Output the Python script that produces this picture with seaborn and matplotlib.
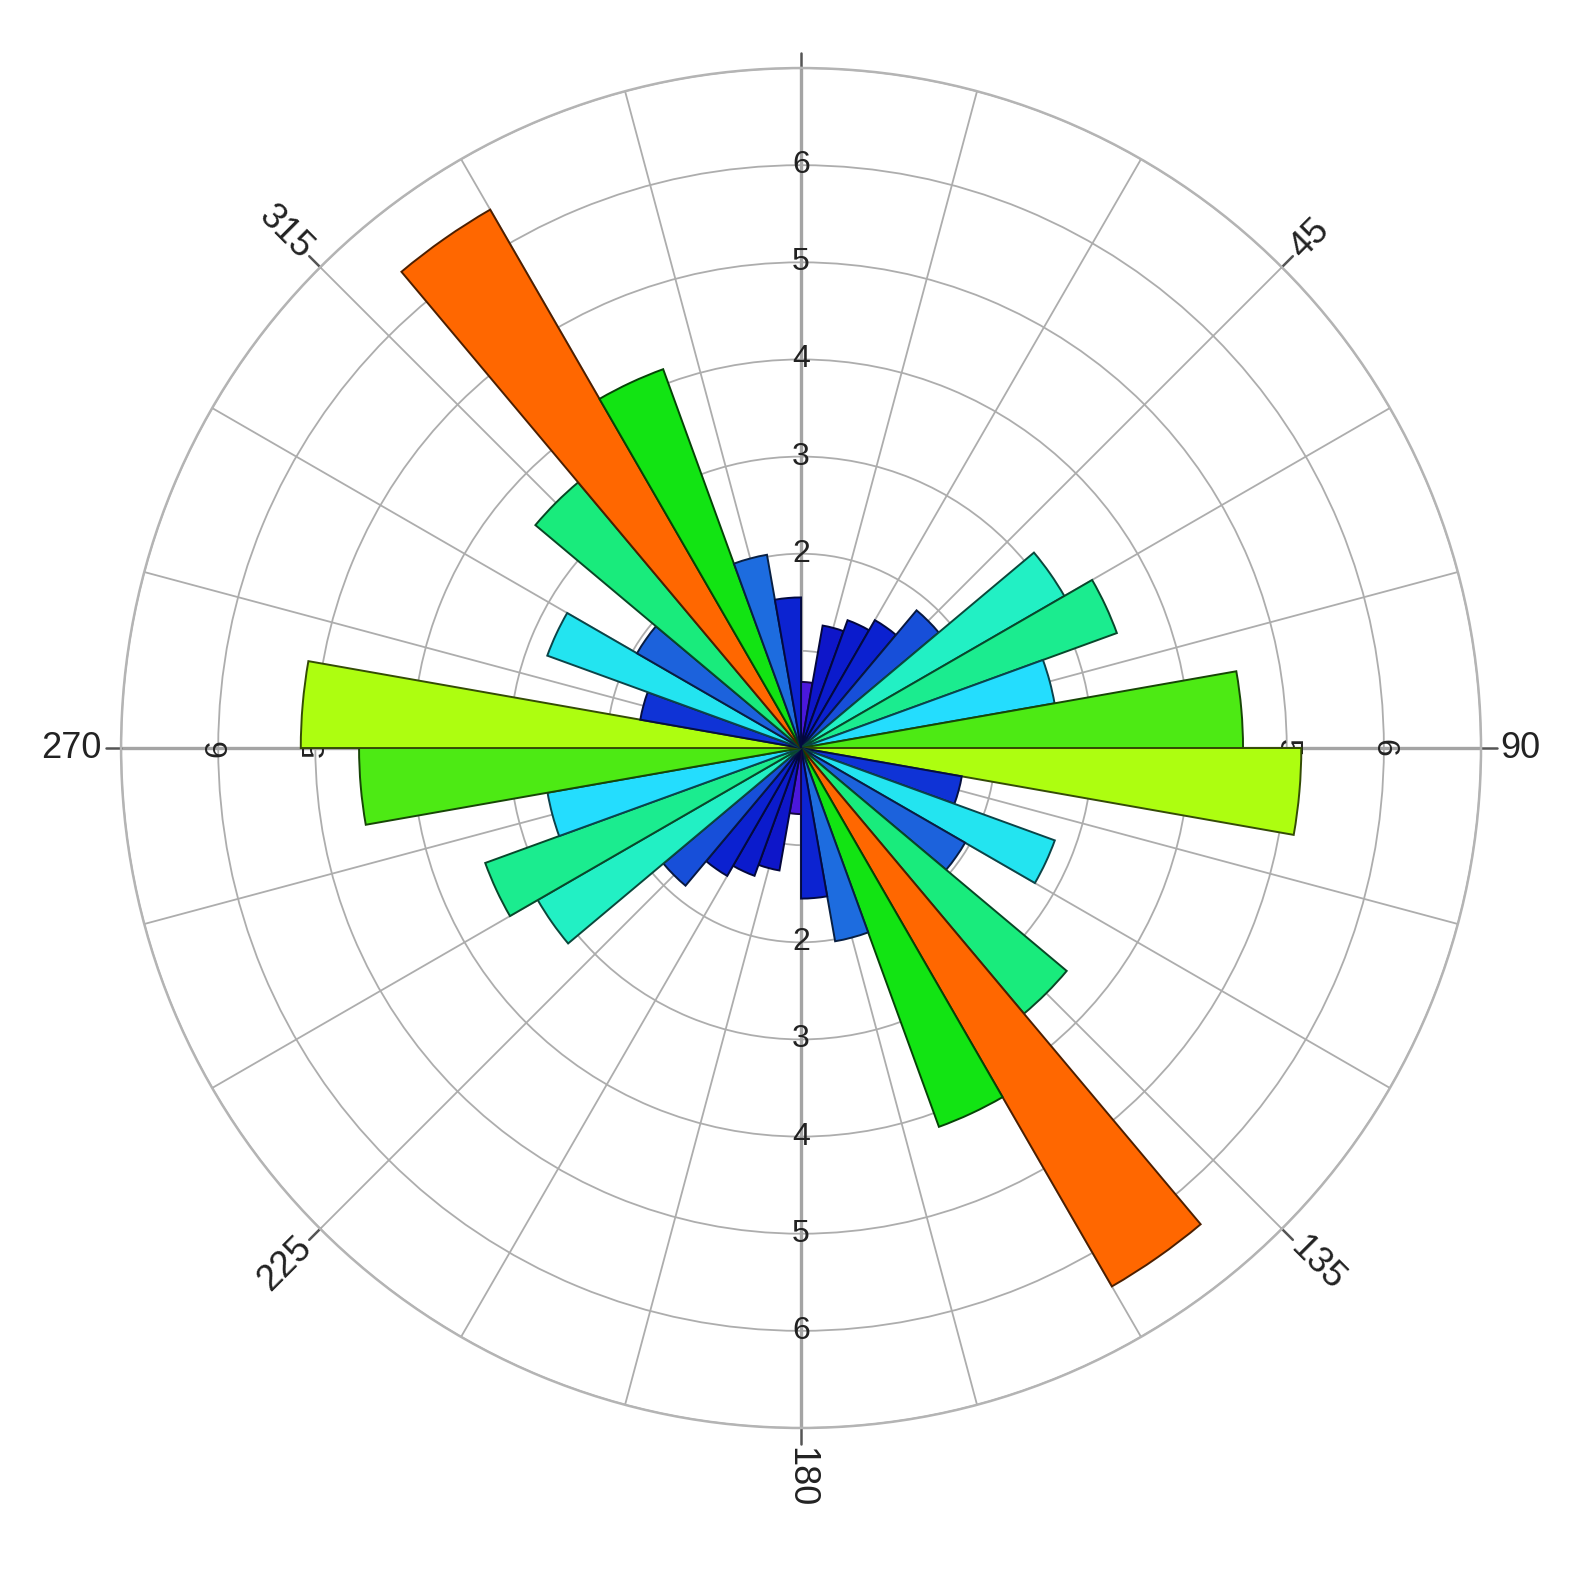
import numpy as np
import seaborn as sns
import matplotlib.pyplot as plt
from matplotlib.colors import LinearSegmentedColormap, to_rgb

# rose diagram, 10 degree bins (axial data, so each bin shows up twice)
bin_starts = list(range(0, 360, 10))
counts = [
    0.68, 1.28, 1.40, 1.52, 1.85, 3.13, 3.46, 2.65, 4.55,
    5.15, 1.68, 2.78, 1.95, 3.57, 6.40, 4.15, 2.02, 1.55,
    0.68, 1.28, 1.40, 1.52, 1.85, 3.13, 3.46, 2.65, 4.55,
    5.15, 1.68, 2.78, 1.95, 3.57, 6.40, 4.15, 2.02, 1.55,
]
ring_labels = [2, 3, 4, 5, 6]
angle_labels = [45, 90, 135, 180, 225, 270, 315]

R_MAX = 7

sns.set_theme(style='white')
plt.rcParams['font.family'] = ['Liberation Sans', 'DejaVu Sans']

# colour ramp by value (purple -> blue -> cyan -> green -> lime -> orange)
ramp = [
    (0.0, '#5a10e0'),
    (0.7, '#4a18dc'),
    (1.3, '#0a16c8'),
    (1.6, '#0c26d4'),
    (1.95, '#1c62dc'),
    (2.65, '#24e0ff'),
    (3.13, '#22f0c4'),
    (3.5, '#1aec88'),
    (4.15, '#12e412'),
    (4.55, '#4cea14'),
    (5.15, '#acff10'),
    (6.4, '#ff6a00'),
    (7.0, '#ff2000'),
]
cmap = LinearSegmentedColormap.from_list('rose', [(v / R_MAX, c) for v, c in ramp])
fills = [cmap(v / R_MAX) for v in counts]
edges = [tuple(0.3 * x for x in to_rgb(c)) for c in fills]

fig = plt.figure(figsize=(15.82, 15.90), dpi=100)
ax = fig.add_axes([0.0765, 0.1019, 0.8597, 0.8553], projection='polar')
ax.set_theta_zero_location('N')
ax.set_theta_direction(-1)
ax.set_ylim(0, R_MAX)

ax.set_thetagrids(np.arange(0, 360, 15), labels=[''] * 24)
ax.set_rgrids(np.arange(1, R_MAX + 1), labels=[''] * R_MAX)
ax.grid(color='#adadad', linewidth=1.3)
ax.spines['polar'].set_color('#b4b4b4')
ax.spines['polar'].set_linewidth(1.8)
ax.set_axisbelow(True)
ax.tick_params(pad=0)

# main axes through the centre
for a in [0, 90, 180, 270]:
    t = np.deg2rad(a)
    ax.plot([t, t], [0, R_MAX], color='#a4a4a4', lw=2.4, zorder=1)

# ticks sticking out of the outer ring + labels
for a in range(0, 360, 45):
    t = np.deg2rad(a)
    ax.plot([t, t], [R_MAX, R_MAX + 0.16], color='#555555', lw=1.8,
            clip_on=False, zorder=1)

for a in angle_labels:
    screen = 90 - a
    screen = (screen + 180) % 360 - 180
    if screen > 90:
        rot, ha = screen - 180, 'right'
    elif screen < -90:
        rot, ha = screen + 180, 'right'
    else:
        rot, ha = screen, 'left'
    ax.text(np.deg2rad(a), R_MAX + 0.2, str(a), rotation=rot,
            rotation_mode='anchor', ha=ha, va='center', fontsize=26,
            color='#222222')

# radial labels along the four main axes (drawn under the bars)
for r in ring_labels:
    for a, rot in [(0, 0), (180, 0), (90, -90), (270, 90)]:
        ax.text(np.deg2rad(a), r, str(r), rotation=rot, rotation_mode='anchor',
                ha='center', va='center', fontsize=23, color='#222222',
                zorder=2)

ax.bar(np.deg2rad(bin_starts), counts, width=np.deg2rad(10), align='edge',
       color=fills, edgecolor=edges, linewidth=1.4, zorder=3)

fig.savefig('out.png', dpi=100, facecolor='white')
